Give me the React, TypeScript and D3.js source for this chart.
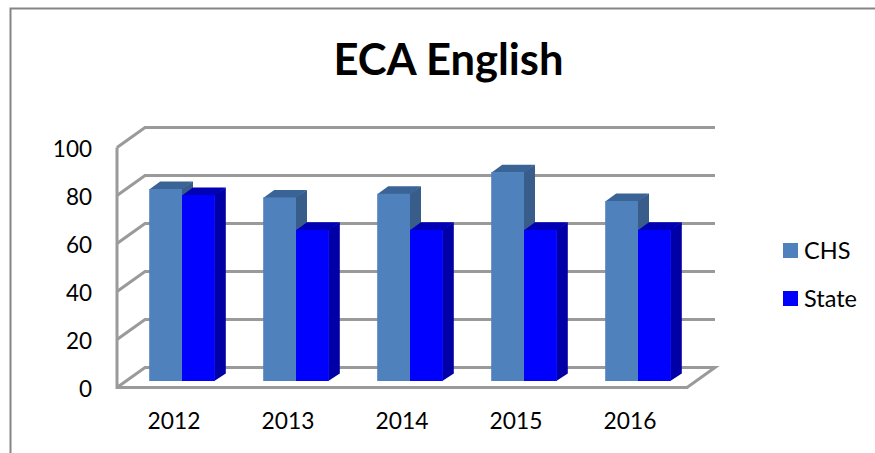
import React, { useEffect, useRef } from "react";
import * as d3 from "d3";

const YEARS = ["2012", "2013", "2014", "2015", "2016"];
const CHS = [80, 76.5, 78, 87, 75];
const STATE = [77.5, 63, 63, 63, 63];
const Y_TICKS = [0, 20, 40, 60, 80, 100];
const SERIES_NAMES = ["CHS", "State"];

const WIDTH = 875;
const HEIGHT = 453;
const FONT = "Lato, 'Open Sans', sans-serif";

// front plane of the 3d box
const LEFT = 117;
const RIGHT = 687;
const BOTTOM = 387.5;
const TOP = 147.5;
const DEPTH_X = 28;
const DEPTH_Y = 20;

// bars sit part way into the box
const BAR_OFFSET_X = 8;
const BAR_OFFSET_Y = 6.5;
const BAR_DX = 11;
const BAR_DY = 7.5;
const BAR_W = 32.8;

const GRID = "#9a9a9a";

function App() {
	const ref = useRef<SVGSVGElement>(null);

	useEffect(() => {
		const svg = d3.select(ref.current);
		svg.selectAll("*").remove();

		const x = d3.scaleBand().domain(YEARS).range([LEFT, RIGHT]);
		const y = d3.scaleLinear().domain([0, 100]).range([BOTTOM, TOP]);

		// chart border, only top and left survive in the crop
		svg
			.append("path")
			.attr("d", `M10.5,${HEIGHT} V8.5 H${WIDTH}`)
			.attr("fill", "none")
			.attr("stroke", "#858585")
			.attr("stroke-width", 2);

		const grid = svg.append("g").attr("fill", "none").attr("stroke", GRID).attr("stroke-width", 3);

		Y_TICKS.filter((t) => t > 0).forEach((t) => {
			grid
				.append("path")
				.attr("d", `M${LEFT},${y(t)} L${LEFT + DEPTH_X},${y(t) - DEPTH_Y} H${RIGHT + DEPTH_X}`);
		});

		// floor and left wall edge
		grid
			.append("path")
			.attr(
				"d",
				`M${LEFT},${BOTTOM} L${LEFT + DEPTH_X},${BOTTOM - DEPTH_Y} H${RIGHT + DEPTH_X} L${RIGHT},${BOTTOM} H${LEFT} V${TOP}`
			);

		const drawBar = (year: string, value: number, seriesIndex: number, front: string, top: string, side: string) => {
			const x0 = x(year)! + x.bandwidth() / 2 + BAR_OFFSET_X - BAR_W + seriesIndex * BAR_W;
			const x1 = x0 + BAR_W;
			const y0 = y(0) - BAR_OFFSET_Y;
			const y1 = y(value) - BAR_OFFSET_Y;
			const g = svg.append("g");
			g.append("path")
				.attr("d", `M${x1 - 0.5},${y1} L${x1 + BAR_DX},${y1 - BAR_DY} V${y0 - BAR_DY} L${x1 - 0.5},${y0} Z`)
				.attr("fill", side);
			g.append("path")
				.attr("d", `M${x0},${y1 + 0.5} L${x0 + BAR_DX},${y1 - BAR_DY} H${x1 + BAR_DX} L${x1},${y1 + 0.5} Z`)
				.attr("fill", top);
			g.append("rect")
				.attr("x", x0)
				.attr("y", y1)
				.attr("width", BAR_W)
				.attr("height", y0 - y1)
				.attr("fill", front);
		};

		YEARS.forEach((year, i) => {
			drawBar(year, CHS[i], 0, "#4f81bd", "#3a6496", "#385d8a");
			drawBar(year, STATE[i], 1, "#0000ff", "#0000b4", "#0000a6");
		});

		const yAxis = d3
			.axisLeft(y)
			.tickValues(Y_TICKS)
			.tickSize(0)
			.tickPadding(LEFT - 92);
		svg
			.append("g")
			.attr("transform", `translate(${LEFT},2)`)
			.call(yAxis)
			.call((g) => g.select(".domain").remove())
			.selectAll("text")
			.attr("font-family", FONT)
			.attr("font-size", 22.5)
			.attr("fill", "#000");

		const xAxis = d3.axisBottom(x).tickSize(0).tickPadding(25);
		svg
			.append("g")
			.attr("transform", `translate(0,${BOTTOM})`)
			.call(xAxis)
			.call((g) => g.select(".domain").remove())
			.selectAll("text")
			.attr("font-family", FONT)
			.attr("font-size", 22.8)
			.attr("fill", "#000");

		svg
			.append("text")
			.attr("x", 448.5)
			.attr("y", 75)
			.attr("text-anchor", "middle")
			.attr("font-family", FONT)
			.attr("font-weight", 700)
			.attr("font-size", 43.5)
			.attr("fill", "#000")
			.text("ECA English");

		const legendColor = d3.scaleOrdinal<string>().domain(SERIES_NAMES).range(["#4f81bd", "#0000ff"]);
		const legendY = d3.scalePoint().domain(SERIES_NAMES).range([243, 291]);
		const legend = svg
			.selectAll("g.legend")
			.data(SERIES_NAMES)
			.enter()
			.append("g")
			.attr("class", "legend")
			.attr("transform", (d) => `translate(783,${legendY(d)})`);
		legend
			.append("rect")
			.attr("width", 15)
			.attr("height", 15)
			.attr("fill", (d) => legendColor(d));
		legend
			.append("text")
			.attr("x", 21)
			.attr("y", 15.5)
			.attr("font-family", FONT)
			.attr("font-size", 23.5)
			.attr("fill", "#000")
			.text((d) => d);
	}, []);

	return (
		<svg
			ref={ref}
			width={WIDTH}
			height={HEIGHT}
			style={{ position: "absolute", left: 0, top: 0, background: "#fff" }}></svg>
	);
}

export default App;
